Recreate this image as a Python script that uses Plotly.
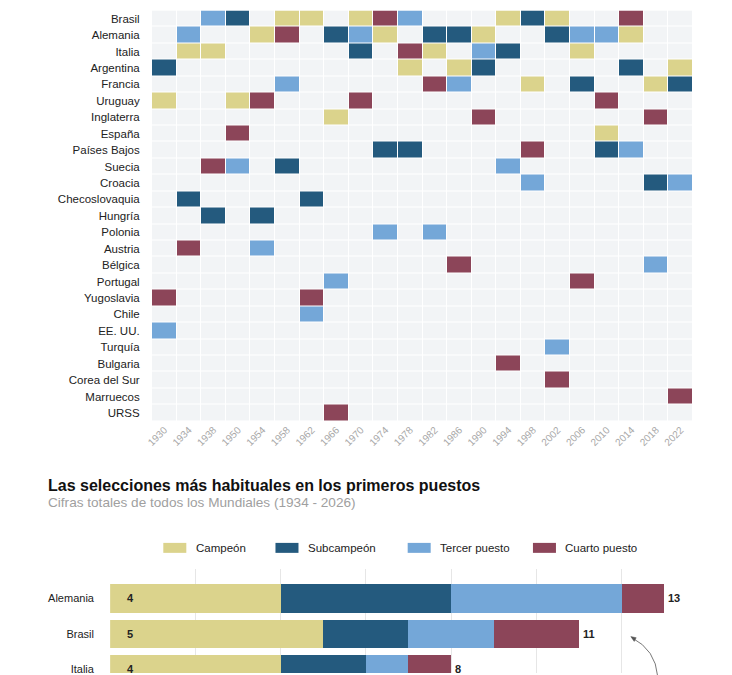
import plotly.graph_objects as go

W, H = 732, 675

years = ["1930", "1934", "1938", "1950", "1954", "1958", "1962", "1966", "1970", "1974", "1978",
         "1982", "1986", "1990", "1994", "1998", "2002", "2006", "2010", "2014", "2018", "2022"]

countries = ["Brasil", "Alemania", "Italia", "Argentina", "Francia", "Uruguay", "Inglaterra", "España",
             "Países Bajos", "Suecia", "Croacia", "Checoslovaquia", "Hungría", "Polonia", "Austria",
             "Bélgica", "Portugal", "Yugoslavia", "Chile", "EE. UU.", "Turquía", "Bulgaria",
             "Corea del Sur", "Marruecos", "URSS"]

campeon = ["Uruguay", "Italia", "Italia", "Uruguay", "Alemania", "Brasil", "Brasil", "Inglaterra", "Brasil",
           "Alemania", "Argentina", "Italia", "Argentina", "Alemania", "Brasil", "Francia", "Brasil", "Italia",
           "España", "Alemania", "Francia", "Argentina"]
subcampeon = ["Argentina", "Checoslovaquia", "Hungría", "Brasil", "Hungría", "Suecia", "Checoslovaquia",
              "Alemania", "Italia", "Países Bajos", "Países Bajos", "Alemania", "Alemania", "Argentina", "Italia",
              "Brasil", "Alemania", "Francia", "Países Bajos", "Argentina", "Croacia", "Francia"]
tercero = ["EE. UU.", "Alemania", "Brasil", "Suecia", "Austria", "Francia", "Chile", "Portugal", "Alemania",
           "Polonia", "Brasil", "Polonia", "Francia", "Italia", "Suecia", "Croacia", "Turquía", "Alemania",
           "Alemania", "Países Bajos", "Bélgica", "Croacia"]
cuarto = ["Yugoslavia", "Austria", "Suecia", "España", "Uruguay", "Alemania", "Yugoslavia", "URSS", "Uruguay",
          "Brasil", "Italia", "Francia", "Bélgica", "Inglaterra", "Bulgaria", "Países Bajos", "Corea del Sur",
          "Portugal", "Uruguay", "Brasil", "Inglaterra", "Marruecos"]

bar_countries = ["Alemania", "Brasil", "Italia"]
bar_campeon = [4, 5, 4]
bar_subcampeon = [4, 2, 2]
bar_tercero = [4, 2, 1]
bar_cuarto = [1, 2, 1]

series_names = ["Campeón", "Subcampeón", "Tercer puesto", "Cuarto puesto"]
colors = ["#dbd38c", "#245a7e", "#74a7d8", "#8c4559"]
empty_color = "#f2f4f6"

FONT = "Liberation Sans, Arial, sans-serif"

# --- heatmap matrix
z = []
for c in countries:
    row = []
    for i, y in enumerate(years):
        v = 0
        if campeon[i] == c:
            v = 1
        elif subcampeon[i] == c:
            v = 2
        elif tercero[i] == c:
            v = 3
        elif cuarto[i] == c:
            v = 4
        row.append(v)
    z.append(row)

allc = [empty_color] + colors
cs = []
for k, col in enumerate(allc):
    cs.append([k / 5, col])
    cs.append([(k + 1) / 5, col])

fig = go.Figure()
fig.add_trace(go.Heatmap(
    z=z, x=years, y=countries, colorscale=cs, zmin=-0.5, zmax=4.5,
    showscale=False, xgap=1, ygap=1, hoverinfo="skip",
    xaxis="x", yaxis="y"))

bar_vals = [bar_campeon, bar_subcampeon, bar_tercero, bar_cuarto]
for name, vals, col in zip(series_names, bar_vals, colors):
    fig.add_trace(go.Bar(
        x=vals, y=bar_countries, orientation="h", name=name,
        marker=dict(color=col, line=dict(width=0)), showlegend=False,
        xaxis="x2", yaxis="y2", hoverinfo="skip"))


def px(x):
    return x / W


def py(y):
    return 1 - y / H


annotations = []
for c, v in zip(bar_countries, bar_campeon):
    annotations.append(dict(x=0, y=c, xref="x2", yref="y2", text=f"<b>{v}</b>", showarrow=False,
                            xanchor="left", xshift=15, font=dict(size=11, color="#222", family=FONT)))
totals = [a + b + c + d for a, b, c, d in zip(bar_campeon, bar_subcampeon, bar_tercero, bar_cuarto)]
for c, t in zip(bar_countries, totals):
    annotations.append(dict(x=t, y=c, xref="x2", yref="y2", text=f"<b>{t}</b>", showarrow=False,
                            xanchor="left", xshift=2, font=dict(size=11, color="#222", family=FONT)))

annotations.append(dict(x=px(40.5), y=py(487), xref="paper", yref="paper", xanchor="left", yanchor="middle",
                        text="<b>Las selecciones más habituales en los primeros puestos</b>", showarrow=False,
                        font=dict(size=16, color="#111", family=FONT)))
annotations.append(dict(x=px(40.5), y=py(504), xref="paper", yref="paper", xanchor="left", yanchor="middle",
                        text="Cifras totales de todos los Mundiales (1934 - 2026)", showarrow=False,
                        font=dict(size=13.6, color="#a0a0a0", family=FONT)))

shapes = []
legend_pos = [(158.6, 190), (271.7, 302.8), (405, 435.4), (531.3, 561.6)]
for (sx, tx), name, col in zip(legend_pos, series_names, colors):
    shapes.append(dict(type="rect", xref="paper", yref="paper", x0=px(sx), x1=px(sx + 23.2),
                       y0=py(554.5), y1=py(544.5), fillcolor=col, line=dict(width=0)))
    annotations.append(dict(x=px(tx), y=py(549.5), xref="paper", yref="paper", xanchor="left",
                            yanchor="middle", text=name, showarrow=False,
                            font=dict(size=11.5, color="#222", family=FONT)))

# curved pointer arrow
shapes.append(dict(type="path", xref="paper", yref="paper",
                   path=f"M {px(657)},{py(678)} Q {px(655)},{py(652)} {px(631)},{py(639.5)}",
                   line=dict(color="#555", width=0.8)))
shapes.append(dict(type="path", xref="paper", yref="paper",
                   path=f"M {px(630)},{py(638.5)} L {px(635.4)},{py(639.6)} L {px(633.4)},{py(643.3)} Z",
                   fillcolor="#555", line=dict(color="#555", width=0.5)))

fig.update_layout(
    width=W, height=H, margin=dict(l=0, r=0, t=0, b=0),
    paper_bgcolor="white", plot_bgcolor="white",
    barmode="stack", bargap=0.2, showlegend=False,
    font=dict(family=FONT),
    xaxis=dict(domain=[px(147.2), px(692.7)], type="category", tickangle=-45, showgrid=False,
               zeroline=False, showline=False, ticks="", tickfont=dict(size=10, color="#a8a8a8"),
               anchor="y"),
    yaxis=dict(domain=[py(422.5), py(10.5)], type="category", autorange="reversed", showgrid=False,
               zeroline=False, showline=False, ticks="outside", ticklen=9, tickcolor="rgba(0,0,0,0)",
               tickfont=dict(size=11.5, color="#222"), anchor="x"),
    xaxis2=dict(domain=[px(105), px(685.1)], range=[0, 13.5], tickvals=[0, 2, 4, 6, 8, 10, 12],
                showticklabels=False, showgrid=True, gridcolor="#e6e6e6", gridwidth=1,
                zeroline=False, showline=False, anchor="y2"),
    yaxis2=dict(domain=[0, py(571)], type="category", range=[2.1, -0.82], showgrid=False,
                zeroline=False, showline=False, ticks="outside", ticklen=13, tickcolor="rgba(0,0,0,0)",
                tickfont=dict(size=11, color="#222"), anchor="x2"),
    annotations=annotations, shapes=shapes,
)

fig.write_html("out.html")
